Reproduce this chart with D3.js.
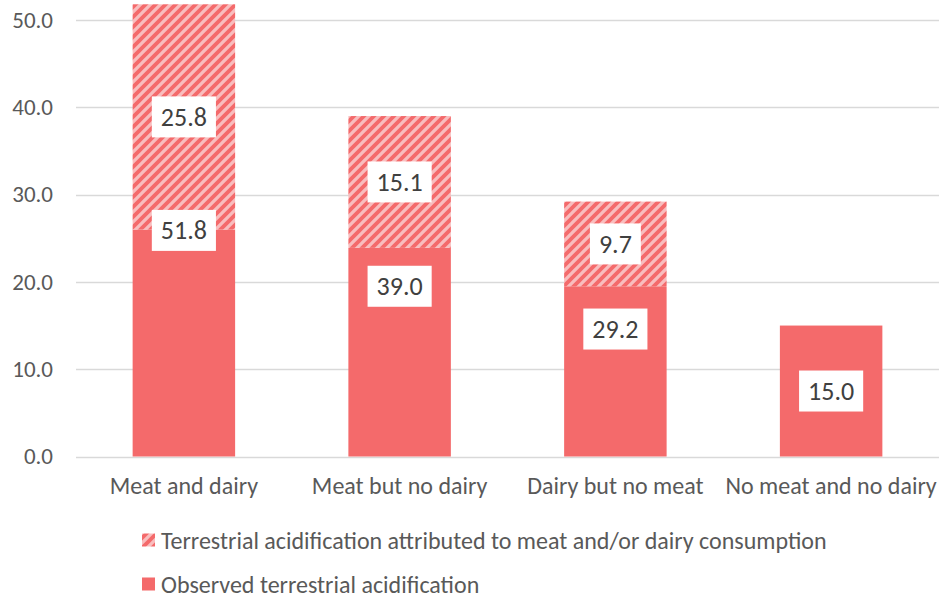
<!DOCTYPE html>
<html>
<head>
<meta charset="utf-8">
<script src="https://cdn.jsdelivr.net/npm/d3@7/dist/d3.min.js"></script>
<style>
  html, body { margin: 0; padding: 0; background: #fff; }
  svg { display: block; font-family: Carlito, Calibri, Lato, "Open Sans", sans-serif; }
</style>
</head>
<body>
<svg id="chart" width="939" height="598"></svg>
<script>
// Diet groups along the x axis
const categories = ["Meat and dairy", "Meat but no dairy", "Dairy but no meat", "No meat and no dairy"];
// Observed terrestrial acidification (solid segment)
const observed = [26.0, 23.9, 19.5, 15.0];
// Part attributed to meat and/or dairy consumption (hatched segment on top)
const attributed = [25.8, 15.1, 9.7, 0];
// Y-axis ticks
const yTicks = [0, 10, 20, 30, 40, 50];

const seriesNames = [
  "Terrestrial acidification attributed to meat and/or dairy consumption",
  "Observed terrestrial acidification"
];

const RED = "#F46A6B";
const PINK = "#F9BDBE";
const FONT = "Carlito, Calibri, Lato, sans-serif";

const svg = d3.select("#chart");
const W = 939, H = 598;
const margin = { left: 76, right: 0, top: 20, bottom: 142 };

const rows = categories.map((c, i) => ({ cat: c, observed: observed[i], attributed: attributed[i] }));
const stacked = d3.stack().keys(["observed", "attributed"])(rows);

const x = d3.scaleBand()
  .domain(categories)
  .range([margin.left, W - margin.right])
  .paddingInner(0.525)
  .paddingOuter(0.2625);

const y = d3.scaleLinear()
  .domain([0, 50])
  .range([H - margin.bottom + 0.5, margin.top]);

// Hatch pattern: wide upward diagonal stripes
const defs = svg.append("defs");
const pat = defs.append("pattern")
  .attr("id", "hatch")
  .attr("patternUnits", "userSpaceOnUse")
  .attr("width", 10).attr("height", 10);
pat.append("rect").attr("width", 10).attr("height", 10).attr("fill", PINK);
pat.append("path")
  .attr("d", "M-2.5,2.5 L2.5,-2.5 M0,10 L10,0 M7.5,12.5 L12.5,7.5")
  .attr("stroke", RED)
  .attr("stroke-width", 3.8);

// Gridlines
svg.append("g")
  .selectAll("line")
  .data(yTicks)
  .join("line")
  .attr("x1", margin.left).attr("x2", W)
  .attr("y1", d => Math.round(y(d)) + 0.5)
  .attr("y2", d => Math.round(y(d)) + 0.5)
  .attr("stroke", "#D9D9D9")
  .attr("stroke-width", 1.5);

// Y axis labels
const yAxis = d3.axisLeft(y)
  .tickValues(yTicks)
  .tickFormat(d3.format(".1f"))
  .tickSize(0)
  .tickPadding(23);
const gy = svg.append("g")
  .attr("transform", `translate(${margin.left},0)`)
  .call(yAxis);
gy.select(".domain").remove();
gy.selectAll("text")
  .attr("fill", "#595959")
  .style("font-size", "23px")
  .style("font-family", FONT);

// Bars
const fills = { observed: RED, attributed: "url(#hatch)" };
svg.append("g")
  .selectAll("g")
  .data(stacked)
  .join("g")
  .attr("fill", d => fills[d.key])
  .selectAll("rect")
  .data(d => d.filter(p => p[1] > p[0]))
  .join("rect")
  .attr("x", d => x(d.data.cat))
  .attr("width", x.bandwidth())
  .attr("y", d => y(d[1]))
  .attr("height", d => y(d[0]) - y(d[1]));

// X axis labels
const xAxis = d3.axisBottom(x).tickSize(0).tickPadding(20);
const gx = svg.append("g")
  .attr("transform", `translate(0,${y(0)})`)
  .call(xAxis);
gx.select(".domain").remove();
gx.selectAll("text")
  .attr("fill", "#595959")
  .style("font-size", "24px")
  .style("font-family", FONT);

// Data labels in white boxes
function boxLabel(g, cx, cy, text) {
  const grp = g.append("g");
  const t = grp.append("text")
    .attr("x", cx).attr("y", cy)
    .attr("text-anchor", "middle")
    .attr("dominant-baseline", "central")
    .attr("fill", "#404040")
    .style("font-size", "26px")
    .text(text);
  const bb = t.node().getBBox();
  const bw = bb.width + 18, bh = 41;
  grp.insert("rect", "text")
    .attr("x", cx - bw / 2).attr("y", cy - bh / 2)
    .attr("width", bw).attr("height", bh)
    .attr("fill", "#fff");
}

const labels = svg.append("g");
const fmt = d3.format(".1f");
rows.forEach(r => {
  const cx = x(r.cat) + x.bandwidth() / 2;
  const total = +(r.observed + r.attributed).toFixed(1);
  if (r.attributed > 0) {
    boxLabel(labels, cx, y(r.observed + r.attributed / 2), fmt(r.attributed));
  }
  boxLabel(labels, cx, y(total / 2), fmt(total));
});

// Legend
const legend = svg.append("g");
const legendItems = [
  { name: seriesNames[0], fill: "url(#hatch)", y: 540 },
  { name: seriesNames[1], fill: RED, y: 584 }
];
legendItems.forEach(it => {
  legend.append("rect")
    .attr("x", 142).attr("y", it.y - 6.5)
    .attr("width", 13).attr("height", 13)
    .attr("fill", it.fill);
  legend.append("text")
    .attr("x", 161).attr("y", it.y)
    .attr("dominant-baseline", "central")
    .attr("fill", "#595959")
    .style("font-size", "24px")
    .text(it.name);
});
</script>
</body>
</html>
